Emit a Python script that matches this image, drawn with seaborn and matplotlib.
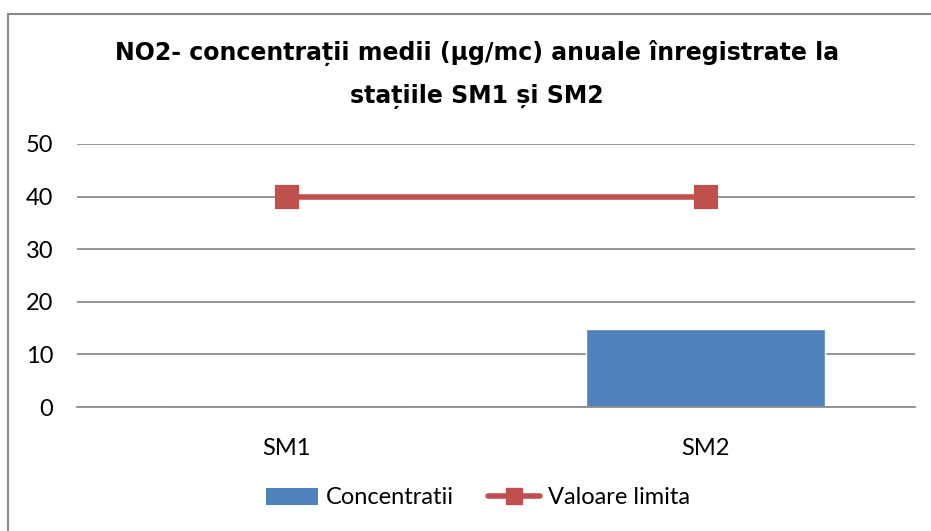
import matplotlib
matplotlib.use("Agg")
import matplotlib.pyplot as plt
import seaborn as sns
from matplotlib.patches import Rectangle, Patch
from matplotlib.lines import Line2D

# data
stations = ["SM1", "SM2"]
concentratii = [0, 14.8]
valoare_limita = [40, 40]
title = "NO2- concentrații medii (µg/mc) anuale înregistrate la\nstațiile SM1 și SM2"

bar_color = "#4F81BD"
line_color = "#C0504D"
grid_color = "#8C8C8C"

sns.set_theme(style="white")
plt.rcParams['font.family'] = ['Lato', 'DejaVu Sans']

fig = plt.figure(figsize=(9.31, 5.31), dpi=100)
ax = fig.add_axes([77 / 931, 1 - 407 / 531, (915 - 77) / 931, (407 - 144) / 531])

sns.barplot(x=stations, y=concentratii, color=bar_color, width=0.57,
            saturation=1, ax=ax, zorder=2)
sns.pointplot(x=stations, y=valoare_limita, color=line_color, markers="s",
              markersize=14, linewidth=4, ax=ax, zorder=3)

ax.set_xlim(-0.5, 1.5)
ax.set_ylim(0, 50)
ax.set_yticks(range(0, 51, 10))
ax.yaxis.grid(True, color=grid_color, linewidth=1.3)
ax.set_axisbelow(True)
for s in ["left", "right", "top"]:
    ax.spines[s].set_visible(False)
ax.spines["bottom"].set_color(grid_color)
ax.spines["bottom"].set_linewidth(1.3)
ax.tick_params(axis="y", labelsize=17, pad=17, length=0, colors="black")
ax.tick_params(axis="x", labelsize=17, pad=22, length=0, colors="black")
ax.set_xlabel("")
ax.set_ylabel("")

fig.text(477 / 931, 1 - 40 / 531, title, ha="center", va="top",
         fontsize=17, fontweight="bold", linespacing=1.95, color="black",
         family=["DejaVu Sans"])

handles = [Patch(facecolor=bar_color, edgecolor="none"),
           Line2D([], [], color=line_color, lw=4, marker="s", markersize=12)]
fig.legend(handles, ["Concentratii", "Valoare limita"], loc="center",
           bbox_to_anchor=(478 / 931, 1 - 498 / 531), ncol=2, frameon=False,
           fontsize=17, handlelength=2.2, columnspacing=1.45, handletextpad=0.35,
           labelcolor="black")

# chart border like the Excel chart area
fig.patches.append(Rectangle((8 / 931, -0.05), 1.2, 1 - 14 / 531 + 0.05,
                             transform=fig.transFigure, fill=False,
                             edgecolor="#8A8A8A", linewidth=1.5))

fig.savefig("out.png", dpi=100)
